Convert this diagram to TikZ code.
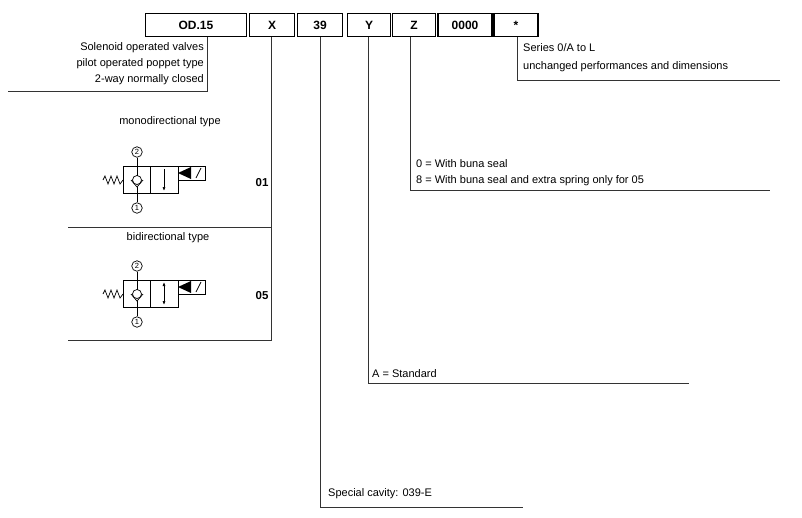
\documentclass[tikz,border=0pt]{standalone}
\usepackage{fontspec}
\setmainfont{Liberation Sans}
\usetikzlibrary{arrows.meta}
\tikzset{
  codebox/.style={draw=black, line width=1.6pt, minimum height=23pt, inner sep=0pt, font=\fontsize{12}{12}\selectfont\bfseries},
  lead/.style={draw=black!80, line width=0.5pt},
  txt/.style={font=\fontsize{11}{12}\selectfont, inner sep=0pt},
  port/.style={draw=black, circle, inner sep=0pt, minimum size=10.5pt, font=\fontsize{7.5}{7.5}\selectfont},
}
\newcommand{\valvesym}[2]{%
  % #1 = vertical offset, #2 = bidirectional flag
  \begin{scope}[yshift=-#1pt, line width=0.7pt]
    \draw (123,166) rectangle (178,193);
    \draw (150,166) -- (150,193);
    \draw (178,166) rectangle (205,180);
    \fill (178,173) -- (191,167) -- (191,179) -- cycle;
    \draw (196,178) -- (201,168);
    \node[port] (p2#2) at (137,152) {2};
    \node[port] (p1#2) at (137,208) {1};
    \draw (137,180) circle (4.5);
    \draw (131,180) -- (137,187) -- (143,180);
    \draw (p2#2) -- (137,175.5);
    \draw (137,187) -- (p1#2);
    \draw (103,180) -- (105,176) -- (108,184) -- (111,176) -- (114,184) -- (117,176) -- (120,184) -- (123,180);
    \ifnum#2=0
      \draw[-{Latex[length=4pt,width=3pt]}] (164,169) -- (164,191);
    \else
      \draw[{Latex[length=4pt,width=3pt]}-{Latex[length=4pt,width=3pt]}] (164,168) -- (164,191);
    \fi
  \end{scope}}
\begin{document}
\begin{tikzpicture}[x=1pt, y=-1pt]
  \useasboundingbox (0,0) rectangle (802,517);
  % code boxes
  \node[codebox, minimum width=101pt] (od) at (196,25) {OD.15};
  \node[codebox, minimum width=45pt] (bx) at (272,25) {X};
  \node[codebox, minimum width=45pt] (b39) at (320,25) {39};
  \node[codebox, minimum width=43pt] (by) at (369,25) {Y};
  \node[codebox, minimum width=43pt] (bz) at (414,25) {Z};
  \node[codebox, minimum width=54pt] (b0) at (465,25) {0000};
  \node[codebox, minimum width=44pt] (bs) at (516,25) {*};
  % left label
  \coordinate (l1) at (207,37);
  \coordinate (l2) at (207,91);
  \coordinate (l3) at (8,91);
  \draw[lead] (l1) -- (l2) -- (l3);
  \node[txt, anchor=east, align=right] (odt) at (204,64) {Solenoid operated valves\\[4pt]pilot operated poppet type\\[4pt]2-way normally closed};
  % series
  \coordinate (s1) at (517,37);
  \coordinate (s2) at (517,80);
  \coordinate (s3) at (780,80);
  \draw[lead] (s1) -- (s2) -- (s3);
  \node[txt, anchor=west, align=left] (st) at (523,58) {Series 0/A to L\\[6pt]unchanged performances and dimensions};
  % Z
  \coordinate (z1) at (410,190);
  \coordinate (z2) at (770,190);
  \draw[lead] (410,37) -- (z1) -- (z2);
  \node[txt, anchor=west, align=left] (zt) at (416,173) {0 = With buna seal\\[4pt]8 = With buna seal and extra spring only for 05};
  % Y
  \coordinate (y1) at (368,383);
  \coordinate (y2) at (689,383);
  \draw[lead] (368,37) -- (y1) -- (y2);
  \node[txt, anchor=west] (yt) at (372,374) {A = Standard};
  % 39
  \coordinate (c1) at (320,507);
  \coordinate (c2) at (523,507);
  \draw[lead] (320,37) -- (c1) -- (c2);
  \node[txt, anchor=west] (ct) at (328,494) {Special cavity: 039-E};
  % X
  \coordinate (x1) at (271,340);
  \coordinate (x2) at (68,340);
  \coordinate (x3) at (68,227);
  \coordinate (x4) at (271,227);
  \draw[lead] (271,37) -- (x1) -- (x2);
  \draw[lead] (x3) -- (x4);
  \node[txt] (mono) at (170,122) {monodirectional type};
  \node[txt] (bidi) at (168,238) {bidirectional type};
  \node[txt, font=\fontsize{11.5}{12}\selectfont\bfseries] (t01) at (262,183) {01};
  \node[txt, font=\fontsize{11.5}{12}\selectfont\bfseries] (t05) at (262,296) {05};
  \valvesym{0}{0}
  \valvesym{114}{1}
\end{tikzpicture}
\end{document}
